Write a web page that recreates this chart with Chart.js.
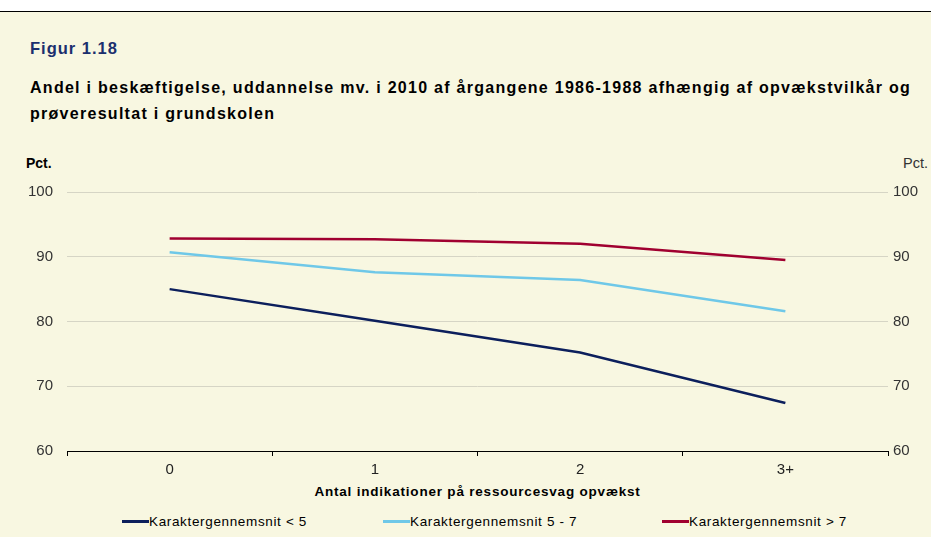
<!DOCTYPE html>
<html>
<head>
<meta charset="utf-8">
<script src="https://cdn.jsdelivr.net/npm/chart.js@4"></script>
<style>
  html, body { margin: 0; padding: 0; width: 931px; height: 537px; overflow: hidden; background: #ffffff; font-family: "Liberation Sans", Arial, sans-serif; }
  #frame { position: absolute; left: 0; top: 12px; width: 931px; height: 525px; background: #f8f7e1; }
  #topline { position: absolute; left: 0; top: 11px; width: 931px; height: 1px; background: #000; }
  #fig { position: absolute; left: 30px; top: 38px; font-weight: bold; font-size: 16.5px; line-height: 20px; letter-spacing: 1.0px; color: #1b2f6e; white-space: nowrap; }
  #title { position: absolute; left: 30px; top: 75px; width: 900px; font-weight: bold; font-size: 16px; line-height: 26px; letter-spacing: 1.28px; color: #000; }
  #pctL { position: absolute; left: 26px; top: 155px; font-size: 14px; line-height: 16px; font-weight: bold; color: #000; }
  #pctR { position: absolute; left: 903px; top: 155px; font-size: 14.5px; line-height: 16px; color: #333; }
  #wrap { position: absolute; left: 0; top: 140px; width: 931px; height: 340px; }
  #xtitle { position: absolute; left: 67px; width: 821px; top: 484px; text-align: center; font-weight: bold; font-size: 13.5px; line-height: 16px; letter-spacing: 0.8px; color: #000; white-space: nowrap; }
  #legend { position: absolute; top: 514px; left: 0; width: 931px; height: 16px; font-size: 13.5px; letter-spacing: 0.65px; color: #000; }
  .li { position: absolute; top: 0; white-space: nowrap; line-height: 16px; }
  .sw { display: inline-block; width: 27px; height: 2.5px; vertical-align: middle; position: relative; top: -1px; }
</style>
</head>
<body>
<div id="frame"></div>
<div id="topline"></div>
<div id="fig">Figur 1.18</div>
<div id="title">Andel i beskæftigelse, uddannelse mv. i 2010 af årgangene 1986-1988 afhængig af opvækstvilkår og prøveresultat i grundskolen</div>
<div id="pctL">Pct.</div>
<div id="pctR">Pct.</div>
<div id="wrap"><canvas id="c"></canvas></div>
<div id="xtitle"></div>
<div id="legend"></div>
<script>
const categories = ["0", "1", "2", "3+"];
const seriesNames = ["Karaktergennemsnit < 5", "Karaktergennemsnit 5 - 7", "Karaktergennemsnit > 7"];
const under5 = [85.0, 80.1, 75.2, 67.4];
const from5to7 = [90.7, 87.6, 86.4, 81.6];
const over7 = [92.8, 92.7, 92.0, 89.5];
const yTicks = [60, 70, 80, 90, 100];
const xTitle = "Antal indikationer på ressourcesvag opvækst";

const colors = ["#0c1f5c", "#6fc8e8", "#a00030"];
const values = [under5, from5to7, over7];

document.getElementById('xtitle').textContent = xTitle;

const legend = document.getElementById('legend');
const legendX = [122, 383, 662];
seriesNames.forEach((n, i) => {
  const d = document.createElement('div');
  d.className = 'li';
  d.style.left = legendX[i] + 'px';
  const sw = document.createElement('span');
  sw.className = 'sw';
  sw.style.background = colors[i];
  d.appendChild(sw);
  d.appendChild(document.createTextNode(n));
  legend.appendChild(d);
});

const font = { family: "'Liberation Sans', Arial, sans-serif", size: 15 };
new Chart(document.getElementById('c'), {
  type: 'line',
  data: {
    labels: categories,
    datasets: values.map((v, i) => ({
      label: seriesNames[i],
      data: v,
      borderColor: colors[i],
      backgroundColor: colors[i],
      borderWidth: 2.5,
      pointRadius: 0,
      tension: 0,
      yAxisID: 'y'
    }))
  },
  options: {
    responsive: true,
    maintainAspectRatio: false,
    animation: false,
    layout: { padding: { top: 52, bottom: 0, left: 0, right: 0 } },
    plugins: { legend: { display: false }, tooltip: { enabled: false } },
    scales: {
      x: {
        offset: true,
        grid: { offset: true, drawOnChartArea: false, drawTicks: true, tickLength: 5, color: '#000', lineWidth: 1 },
        border: { display: true, color: '#000', width: 1 },
        ticks: { font: font, color: '#222', padding: 5, maxRotation: 0 },
        afterFit: s => { s.height = 29; }
      },
      y: {
        position: 'left',
        min: 60, max: 100,
        afterBuildTicks: s => { s.ticks = yTicks.map(v => ({ value: v })); },
        grid: { color: '#d6d5c5', drawTicks: false, lineWidth: 1 },
        border: { display: false },
        ticks: { font: font, color: '#333', padding: 14 },
        afterFit: s => { s.width = 67; }
      },
      y2: {
        position: 'right',
        min: 60, max: 100,
        afterBuildTicks: s => { s.ticks = yTicks.map(v => ({ value: v })); },
        grid: { drawOnChartArea: false, drawTicks: false },
        border: { display: false },
        ticks: { font: font, color: '#333', padding: 5 },
        afterFit: s => { s.width = 43; }
      }
    }
  }
});
</script>
</body>
</html>
